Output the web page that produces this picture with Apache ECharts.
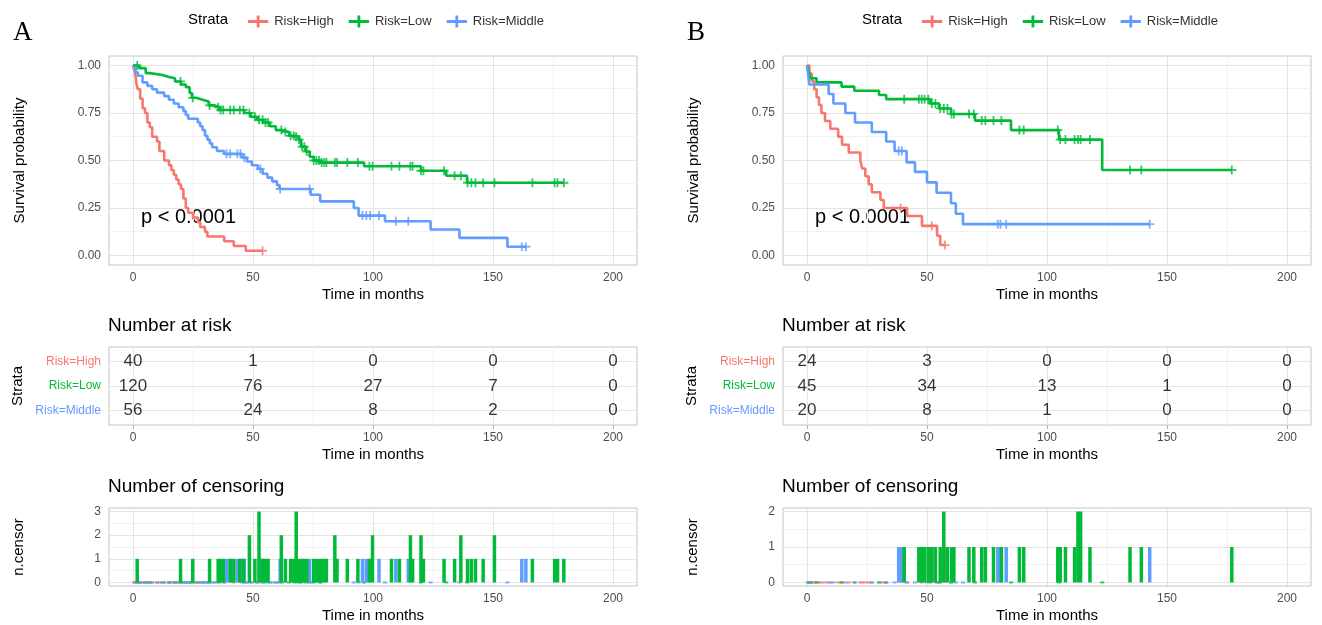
<!DOCTYPE html>
<html>
<head>
<meta charset="utf-8">
<script src="https://cdn.jsdelivr.net/npm/echarts@6/dist/echarts.min.js"></script>
<style>
  html, body { margin: 0; padding: 0; background: #fff; }
  #chart { width: 1322px; height: 625px; }
</style>
</head>
<body>
<div id="chart"></div>
<script>
// Kaplan-Meier panels A and B: survival curves, number at risk, number of censoring.

const FONT = 'Liberation Sans, Arial, sans-serif';
const RED = '#F8766D', GREEN = '#00BA38', BLUE = '#619CFF';
const GROUPS = ['Risk=High', 'Risk=Low', 'Risk=Middle'];

const X_TICKS = [0, 50, 100, 150, 200];
const X_MINOR = [25, 75, 125, 175];
const SURV_TICKS = [0, 0.25, 0.5, 0.75, 1];
const SURV_MINOR = [0.125, 0.375, 0.625, 0.875];
const RISK_TIMES = [0, 50, 100, 150, 200];

// ---- panel A: survival steps [month, probability]
const aHighSteps = [[0,1],[0.5,0.975],[1,0.95],[1.5,0.9],[2,0.875],[3,0.825],[4,0.775],[5,0.75],[6,0.7],[7,0.675],
  [8,0.625],[10,0.6],[11,0.55],[13,0.5],[15,0.475],[16,0.45],[17,0.425],[18,0.4],[19,0.375],[20,0.35],[21,0.3],
  [22,0.25],[23,0.225],[25,0.2],[27,0.175],[28,0.15],[30,0.125],[31,0.1],[38,0.075],[42,0.05],[47,0.025],[54,0.025]];
const aLowSteps = [[0,1],[2.6,0.986],[5.3,0.96],[7,0.95],[12.3,0.94],[15,0.933],[17.5,0.916],[20,0.9],[22,0.886],
  [23.6,0.855],[24.5,0.83],[26.3,0.82],[29,0.81],[31.5,0.79],[34,0.78],[36,0.766],[46.4,0.75],[49,0.73],[51.7,0.714],
  [54.3,0.7],[57,0.68],[59.5,0.66],[62,0.65],[65,0.63],[67.4,0.625],[69,0.61],[70,0.573],[72,0.547],[73.6,0.52],
  [75.3,0.5],[78,0.489],[96.3,0.47],[120,0.446],[130.5,0.42],[139.2,0.383],[179.5,0.383]];
const aMidSteps = [[0,1],[1,0.964],[2,0.946],[4,0.911],[6,0.893],[8,0.875],[10,0.857],[13,0.839],[15,0.82],[17,0.8],
  [19,0.78],[21,0.76],[22,0.74],[23,0.72],[27,0.7],[28,0.68],[29,0.66],[30,0.63],[31,0.61],[32,0.59],[33,0.57],
  [35,0.55],[38,0.535],[45.5,0.515],[47.5,0.495],[49.5,0.475],[52,0.455],[54,0.43],[56,0.41],[58,0.39],[60,0.37],
  [61,0.35],[74,0.32],[78,0.285],[92,0.25],[94,0.21],[105,0.18],[124,0.137],[136,0.093],[156,0.046],[163.7,0.046]];

// panel A censoring [month, count]
const aHighCens = [[54,1]];
const aLowCens = [[1.75,1],[19.8,1],[24.9,1],[31.9,1],[35.5,1],[36.5,1],[37.6,1],[40.5,1],[42,1],[44.5,1],[46,1],
  [48.5,2],[50.8,1],[52.5,3],[54,1],[55.2,1],[56.3,1],[61.8,2],[63.5,1],[65.7,1],[67,1],[68,3],[69.2,1],[70.4,1],
  [71.4,1],[72.4,1],[75.3,1],[76.4,1],[77.5,1],[78.6,1],[79.7,1],[80.6,1],[84.1,2],[85,1],[89.3,1],[93.7,1],
  [98.5,1],[99.8,2],[107.7,1],[111,1],[115.6,2],[116.5,1],[120,2],[121,1],[129.6,1],[134,1],[136.6,2],[139.4,1],
  [141,1],[142.7,1],[145.9,1],[150.6,2],[166.4,1],[175.7,1],[176.9,1],[179.5,1]];
const aMidCens = [[39,1],[40.5,1],[43.5,1],[44.8,1],[46.4,1],[53,1],[61.3,1],[73.6,1],[95.6,1],[97.2,1],[98.8,1],
  [102.5,1],[109.5,1],[114.7,1],[162,1],[163.7,1]];

// panel A number at risk at RISK_TIMES
const aHighRisk = [40, 1, 0, 0, 0];
const aLowRisk = [120, 76, 27, 7, 0];
const aMidRisk = [56, 24, 8, 2, 0];

// ---- panel B
const bHighSteps = [[0,1],[1,0.958],[2,0.917],[3,0.875],[4,0.833],[5,0.792],[6,0.75],[7.5,0.708],[9.7,0.667],
  [13,0.625],[14.6,0.583],[17.4,0.542],[22.2,0.5],[23,0.458],[24.3,0.417],[25.7,0.375],[27,0.333],[30.6,0.292],
  [32,0.25],[41.7,0.208],[47.9,0.156],[54.2,0.104],[55.5,0.055],[57.5,0.055]];
const bLowSteps = [[0,1],[0.5,0.978],[1,0.956],[1.5,0.933],[4,0.911],[14.4,0.889],[19.7,0.867],[30,0.845],
  [33,0.823],[51.4,0.8],[55,0.774],[60,0.745],[70,0.71],[85,0.66],[105,0.61],[123,0.45],[177,0.45]];
const bMidSteps = [[0,1],[0.5,0.95],[1,0.9],[9,0.85],[11,0.8],[16,0.75],[20,0.7],[27,0.65],[33,0.6],[36.5,0.55],
  [41.5,0.49],[45,0.44],[50,0.385],[54,0.33],[60,0.275],[62,0.22],[65,0.165],[142.8,0.165]];

const bHighCens = [[39,1],[52,1],[57.5,1]];
const bLowCens = [[40.5,1],[46.6,1],[47.8,1],[49,1],[50.5,1],[52,1],[53.5,1],[55.5,1],[57,2],[58.5,1],[60.2,1],
  [61.2,1],[67.5,1],[69.5,1],[72.8,1],[74.3,1],[77.7,1],[81,1],[88.5,1],[90.3,1],[104.5,1],[105.5,1],[107.7,1],
  [111.5,1],[112.9,2],[114,2],[117.9,1],[134.6,1],[139.3,1],[177,1]];
const bMidCens = [[38.2,1],[39.5,1],[79.5,1],[80.6,1],[83,1],[142.8,1]];

const bHighRisk = [24, 3, 0, 0, 0];
const bLowRisk = [45, 34, 13, 1, 0];
const bMidRisk = [20, 8, 1, 0, 0];

// ---------------------------------------------------------------------------
const PLUS = 'path://M4,0h2v10h-2z M0,4h10v2h-10z';
const LEGEND_ICON = 'path://M0,5h22v3h-22z M9.5,0h3v13h-3z';

const panels = [
  { letter: 'A', left: 109, steps: [aHighSteps, aLowSteps, aMidSteps], cens: [aHighCens, aLowCens, aMidCens],
    risk: [aHighRisk, aLowRisk, aMidRisk], censMax: 3 },
  { letter: 'B', left: 783, steps: [bHighSteps, bLowSteps, bMidSteps], cens: [bHighCens, bLowCens, bMidCens],
    risk: [bHighRisk, bLowRisk, bMidRisk], censMax: 2 },
];
const COLORS = [RED, GREEN, BLUE];
const W = 528;
const ROWS = [
  { top: 56, height: 209 },   // survival
  { top: 347, height: 78 },   // number at risk
  { top: 508, height: 78 },   // censoring
];

function survAt(steps, t) {
  let s = steps[0][1];
  for (const [x, y] of steps) { if (x <= t) s = y; else break; }
  return s;
}

function range(a, b) { const out = []; for (let i = a; i <= b; i++) out.push(i); return out; }

const tickStyle = { show: true, length: 4, lineStyle: { color: '#b3b3b3', width: 1 } };
const labelStyle = { color: '#4d4d4d', fontSize: 12, fontFamily: FONT };
const nameStyle = { color: '#000', fontSize: 15, fontFamily: FONT };

function xAxis(gi) {
  return {
    type: 'value', gridIndex: gi, min: -10, max: 210,
    name: 'Time in months', nameLocation: 'middle', nameGap: 22, nameTextStyle: nameStyle,
    axisLine: { show: false },
    axisTick: Object.assign({ customValues: X_TICKS }, tickStyle),
    axisLabel: Object.assign({ customValues: X_TICKS, margin: 7 }, labelStyle),
    splitLine: { show: false },
  };
}

// grid lines live on the bottom canvas layer, marks on the layer above
function gridLines(gi, xMajor, xMinor, yMajor, yMinor) {
  const major = { color: '#e4e4e4', width: 1, type: 'solid' };
  const minor = { color: '#f2f2f2', width: 1, type: 'solid' };
  const data = [];
  xMinor.forEach(v => data.push({ xAxis: v, lineStyle: minor }));
  yMinor.forEach(v => data.push({ yAxis: v, lineStyle: minor }));
  xMajor.forEach(v => data.push({ xAxis: v, lineStyle: major }));
  yMajor.forEach(v => data.push({ yAxis: v, lineStyle: major }));
  return {
    type: 'line', xAxisIndex: gi, yAxisIndex: gi, data: [], silent: true, zlevel: 0, z: 0,
    markLine: { silent: true, symbol: 'none', label: { show: false }, animation: false, data },
  };
}

const grids = [], xAxes = [], yAxes = [], series = [], graphics = [], legends = [];

panels.forEach((p, pi) => {
  const base = pi * 3;
  ROWS.forEach(r => grids.push({
    left: p.left, top: r.top, width: W, height: r.height,
    show: true, borderColor: '#c4c4c4', borderWidth: 1, backgroundColor: '#fff',
  }));
  for (let k = 0; k < 3; k++) xAxes.push(xAxis(base + k));

  // survival y axis
  yAxes.push({
    type: 'value', gridIndex: base, min: -0.05, max: 1.05,
    name: 'Survival probability', nameLocation: 'middle', nameGap: 82, nameRotate: 90, nameTextStyle: nameStyle,
    axisLine: { show: false },
    axisTick: Object.assign({ customValues: SURV_TICKS }, tickStyle),
    axisLabel: Object.assign({ customValues: SURV_TICKS, margin: 8, formatter: v => v.toFixed(2) }, labelStyle),
    splitLine: { show: false },
  });
  // number at risk y axis (3 = High, 2 = Low, 1 = Middle)
  yAxes.push({
    type: 'value', gridIndex: base + 1, min: 0.4, max: 3.6,
    name: 'Strata', nameLocation: 'middle', nameGap: 84, nameRotate: 90, nameTextStyle: nameStyle,
    axisLine: { show: false },
    axisTick: Object.assign({ customValues: [1, 2, 3] }, tickStyle),
    axisLabel: {
      customValues: [1, 2, 3], margin: 8, fontFamily: FONT, fontSize: 12,
      formatter: v => ({ 3: '{h|Risk=High}', 2: '{l|Risk=Low}', 1: '{m|Risk=Middle}' })[v],
      rich: {
        h: { color: RED, fontSize: 12, fontFamily: FONT },
        l: { color: GREEN, fontSize: 12, fontFamily: FONT },
        m: { color: BLUE, fontSize: 12, fontFamily: FONT },
      },
    },
    splitLine: { show: false },
  });
  // censoring y axis
  const cTicks = range(0, p.censMax);
  const cMinor = cTicks.slice(0, -1).map(v => v + 0.5);
  const pad = p.censMax * 0.05;
  yAxes.push({
    type: 'value', gridIndex: base + 2, min: -pad, max: p.censMax + pad,
    name: 'n.censor', nameLocation: 'middle', nameGap: 83, nameRotate: 90, nameTextStyle: nameStyle,
    axisLine: { show: false },
    axisTick: Object.assign({ customValues: cTicks }, tickStyle),
    axisLabel: Object.assign({ customValues: cTicks, margin: 8 }, labelStyle),
    splitLine: { show: false },
  });

  series.push(gridLines(base, X_TICKS, X_MINOR, SURV_TICKS, SURV_MINOR));
  series.push(gridLines(base + 1, X_TICKS, X_MINOR, [1, 2, 3], []));
  series.push(gridLines(base + 2, X_TICKS, X_MINOR, cTicks, cMinor));

  GROUPS.forEach((g, gi) => {
    const color = COLORS[gi];
    const steps = p.steps[gi];
    const cens = p.cens[gi];
    series.push({
      name: g, type: 'line', xAxisIndex: base, yAxisIndex: base, step: 'end', zlevel: 1, z: 3,
      data: steps, showSymbol: false, symbol: 'none',
      lineStyle: { color, width: 2.6 }, itemStyle: { color },
    });
    series.push({
      name: g, type: 'scatter', xAxisIndex: base, yAxisIndex: base, zlevel: 1, z: 4,
      symbol: PLUS, symbolSize: 9, itemStyle: { color },
      data: cens.map(([t]) => [t, survAt(steps, t)]),
    });
    // number at risk row
    const yRow = 3 - gi;
    series.push({
      type: 'scatter', xAxisIndex: base + 1, yAxisIndex: base + 1, symbolSize: 1, zlevel: 1,
      itemStyle: { color: 'rgba(0,0,0,0)' },
      label: { show: true, position: 'inside', color: '#000', fontSize: 17, fontFamily: FONT,
        formatter: d => String(d.value[2]) },
      data: RISK_TIMES.map((t, i) => [t, yRow, p.risk[gi][i]]),
    });
    // censor bars
    series.push({
      name: g, type: 'bar', xAxisIndex: base + 2, yAxisIndex: base + 2, barWidth: 3.5, barGap: '-100%',
      itemStyle: { color }, zlevel: 1, z: gi === 1 ? 4 : 3,
      data: cens,
    });
    // zero-count marks at event times
    series.push({
      type: 'scatter', xAxisIndex: base + 2, yAxisIndex: base + 2, symbol: 'rect', symbolSize: [4, 2],
      zlevel: 1, z: 2, itemStyle: { color },
      data: steps.slice(1, -1).map(([t]) => [t, 0]),
    });
  });

  const off = p.left - 109;
  graphics.push({ type: 'text', left: 13 + off, top: 19,
    style: { text: p.letter, font: '27px "Liberation Serif", "Times New Roman", serif', fill: '#000' } });
  graphics.push({ type: 'text', left: 188 + off, top: 12,
    style: { text: 'Strata', font: '15px ' + FONT, fill: '#000' } });
  graphics.push({ type: 'text', left: 141 + off, top: 207,
    style: { text: 'p < 0.0001', font: '20px ' + FONT, fill: '#000' } });
  graphics.push({ type: 'text', left: 108 + off, top: 316,
    style: { text: 'Number at risk', font: '19px ' + FONT, fill: '#000' } });
  graphics.push({ type: 'text', left: 108 + off, top: 477,
    style: { text: 'Number of censoring', font: '19px ' + FONT, fill: '#000' } });

  legends.push({
    left: 243 + off, top: 10, orient: 'horizontal', itemGap: 15, itemWidth: 22, itemHeight: 12,
    icon: LEGEND_ICON, data: GROUPS, selectedMode: false,
    textStyle: { color: '#333', fontSize: 13, fontFamily: FONT },
  });
});

const chart = echarts.init(document.getElementById('chart'));
chart.setOption({
  animation: false,
  backgroundColor: '#fff',
  textStyle: { fontFamily: FONT },
  legend: legends,
  grid: grids,
  xAxis: xAxes,
  yAxis: yAxes,
  series,
  graphic: graphics,
});
window.addEventListener('resize', () => chart.resize());
</script>
</body>
</html>
